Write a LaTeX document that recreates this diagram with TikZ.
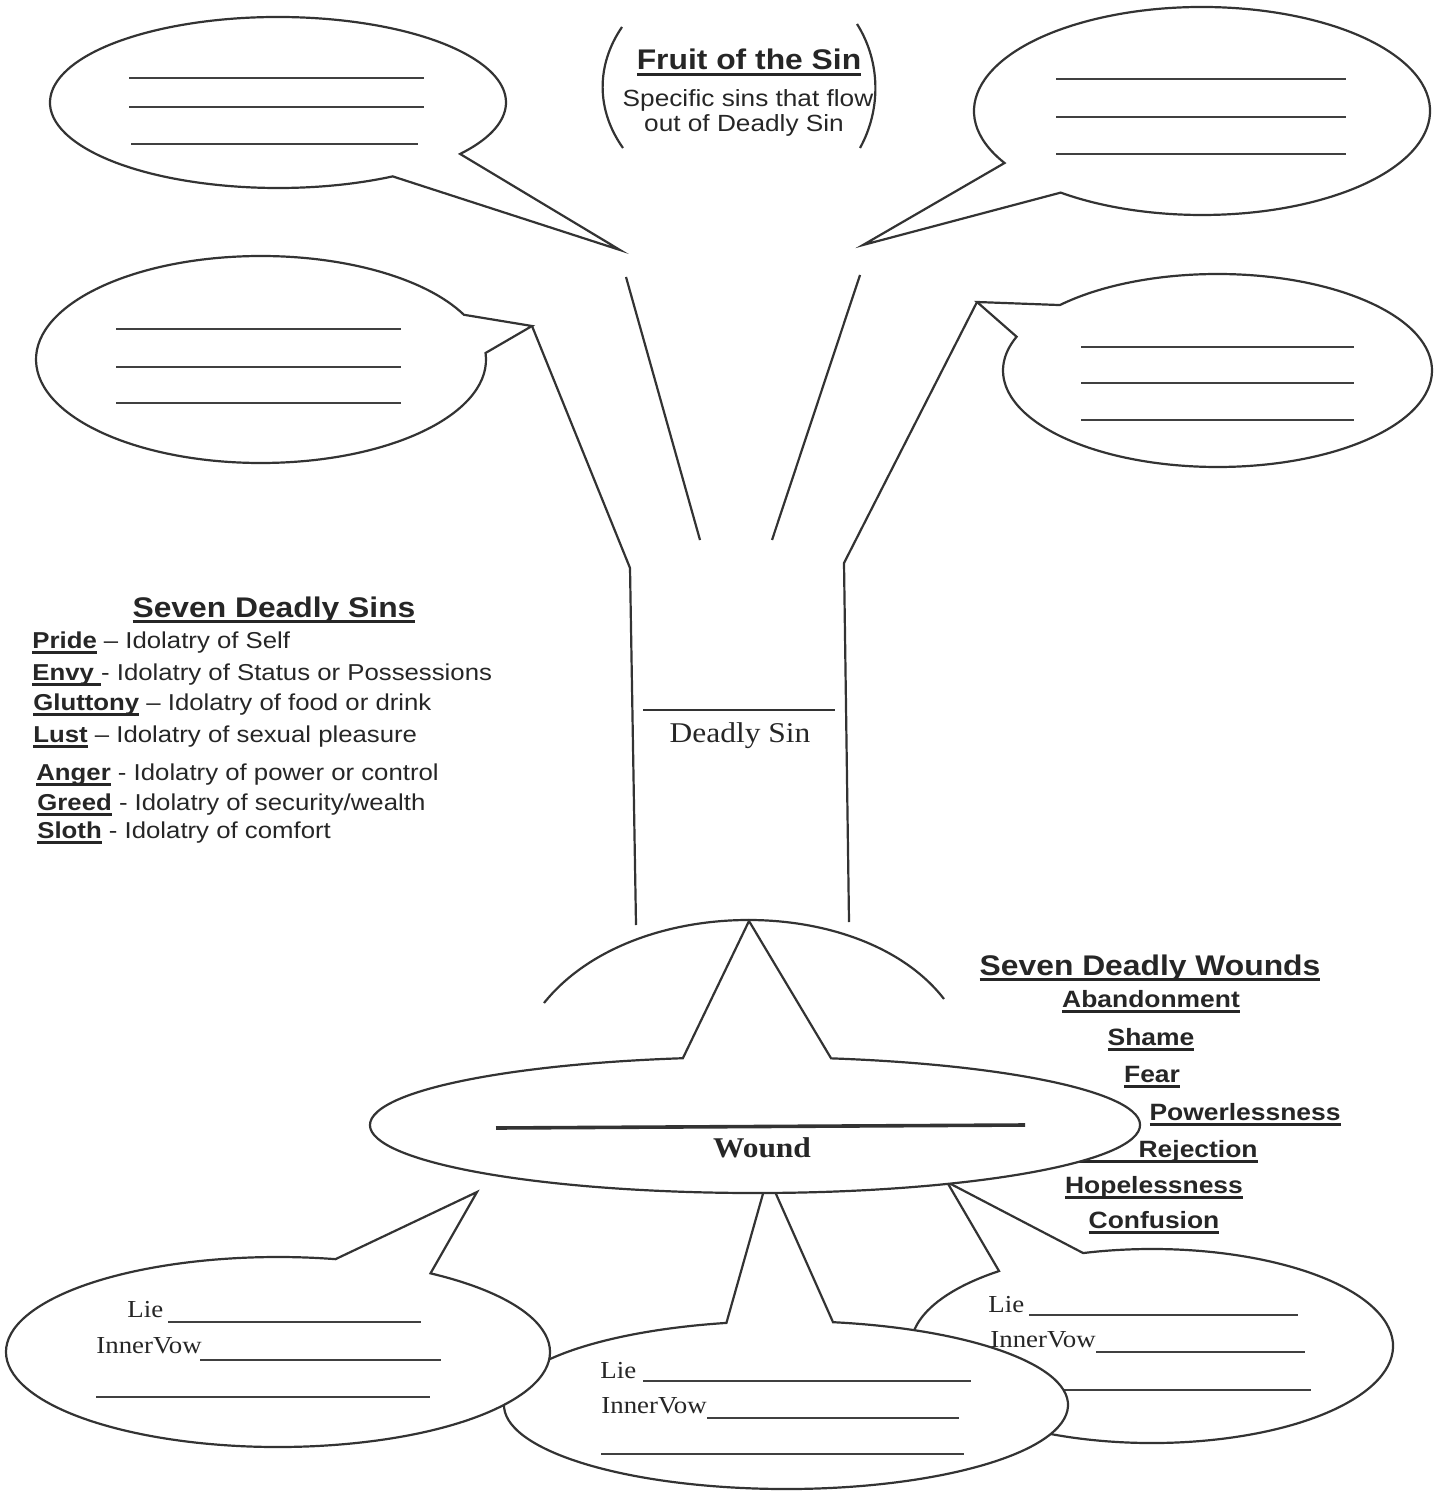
\documentclass[tikz,border=0pt]{standalone}
\usepackage{fontspec}
\newfontfamily\sansx[FakeStretch=1.12]{Liberation Sans}
\newfontfamily\serifx[FakeStretch=1.1]{Liberation Serif}
\usetikzlibrary{positioning,calc}
\newsavebox\ulbox
\newcommand{\ul}[1]{\sbox\ulbox{#1}\rlap{\rule[-3pt]{\wd\ulbox}{1.3pt}}\usebox\ulbox}
\tikzset{
  outl/.style={line width=1.1pt, draw=black!80, fill=white},
  trunk/.style={line width=1.1pt, draw=black!80},
  blank/.style={line width=0.7pt, draw=black!75},
  ttl/.style={font=\sansx\bfseries\fontsize{14.2}{16}\selectfont, anchor=base, inner sep=0pt, text=black!85},
  sub/.style={font=\sansx\fontsize{11.7}{13}\selectfont, anchor=base, inner sep=0pt, text=black!85},
  sin/.style={font=\sansx\fontsize{11.5}{13}\selectfont, anchor=base west, inner sep=0pt, text=black!85},
  wnd/.style={font=\sansx\bfseries\fontsize{11.8}{13}\selectfont, anchor=base, inner sep=0pt, text=black!85},
  srf/.style={font=\serifx\fontsize{14.3}{16}\selectfont, anchor=base, inner sep=0pt, text=black!85},
  lie/.style={font=\serifx\fontsize{12.2}{13}\selectfont, anchor=base west, inner sep=0pt, text=black!85}
}
\begin{document}
\begin{tikzpicture}[x=0.5pt,y=-0.5pt]
\useasboundingbox (0,0) rectangle (1440,1491);
\coordinate (ttip) at (620,250);
\coordinate (rtip) at (863,245);
\coordinate (ltip) at (532,326);
\coordinate (mtip) at (977,302);
\coordinate (wtip) at (749,921);

% fruit bubbles
\draw[outl] (278,102.5) ++(59.8:228 and 85.5) arc[start angle=59.8, end angle=397, x radius=228, y radius=85.5] -- (ttip) -- cycle;
\draw[outl] (1202,111) ++(150:228 and 104) arc[start angle=150, end angle=488.3, x radius=228, y radius=104] -- (rtip) -- cycle;
\draw[outl] (261,359.5) ++(-3.6:225 and 103.5) arc[start angle=-3.6, end angle=334.4, x radius=225, y radius=103.5] -- (ltip) -- cycle;
\draw[outl] (1217.5,370.5) ++(222.7:214.5 and 96.5) arc[start angle=222.7, end angle=560.5, x radius=214.5, y radius=96.5] -- (mtip) -- cycle;
\foreach \y in {78,107} \draw[blank] (129,\y) -- (424,\y);
\draw[blank] (131,144) -- (418,144);
\foreach \y in {79,117,154} \draw[blank] (1056,\y) -- (1346,\y);
\foreach \y in {329,367,403} \draw[blank] (116,\y) -- (401,\y);
\foreach \y in {347,383,420} \draw[blank] (1081,\y) -- (1354,\y);

\draw[trunk] (622,27) .. controls (596,65) and (596,110) .. (623,148);
\draw[trunk] (857,24) .. controls (881,62) and (881,110) .. (860,148);
\node[ttl] (fruit) at (749,70) {\ul{Fruit of the Sin}};
\node[sub] (flow) at (748,107) {Specific sins that flow};
\node[sub] (flowb) at (744,132) {out of Deadly Sin};

% tree
\draw[trunk] (ltip) -- (630,568) -- (636,925);
\draw[trunk] (mtip) -- (844,563) -- (849,922);
\draw[trunk] (626,277) -- (700,540);
\draw[trunk] (860,275) -- (772,540);
\draw[line width=1.3pt, black!80] (643,710) -- (835,710);
\node[srf] (dsin) at (740,742) {Deadly Sin};
\draw[trunk] (544,1003) .. controls (632,893) and (862,893) .. (944,999);

\node[ttl] (sins) at (274,617) {\ul{Seven Deadly Sins}};
\node[sin] (pride) at (32,648) {\ul{\bfseries Pride} – Idolatry of Self};
\node[sin] (envy) at (32,680) {\ul{\bfseries Envy\ }- Idolatry of Status or Possessions};
\node[sin] (glut) at (33,710) {\ul{\bfseries Gluttony} – Idolatry of food or drink};
\node[sin] (lust) at (33,742) {\ul{\bfseries Lust} – Idolatry of sexual pleasure};
\node[sin] (anger) at (36,780) {\ul{\bfseries Anger} - Idolatry of power or control};
\node[sin] (greed) at (37,810) {\ul{\bfseries Greed} - Idolatry of security/wealth};
\node[sin] (sloth) at (37,838) {\ul{\bfseries Sloth} - Idolatry of comfort};

% lie bubbles
\draw[outl] (1152,1346) ++(253.4:241 and 97) arc[start angle=253.4, end angle=590.6, x radius=241, y radius=97] -- (947,1182) -- cycle;
\draw[blank] (1029,1315) -- (1298,1315);
\draw[blank] (1096,1352) -- (1305,1352);
\draw[blank] (990,1390) -- (1311,1390);
\draw[outl] (786,1405) ++(279.6:282 and 84) arc[start angle=279.6, end angle=617.8, x radius=282, y radius=84] -- (768,1176) -- cycle;
\draw[blank] (643,1381) -- (971,1381);
\draw[blank] (707,1418) -- (959,1418);
\draw[blank] (601,1454) -- (964,1454);
\node[lie] (liem) at (600,1378) {Lie};
\node[lie] (vowm) at (601,1413) {InnerVow};
\draw[outl] (278,1352) ++(304.1:272 and 95) arc[start angle=304.1, end angle=642.2, x radius=272, y radius=95] -- (477,1192) -- cycle;
\draw[blank] (168,1322) -- (421,1322);
\draw[blank] (200,1360) -- (441,1360);
\draw[blank] (96,1397) -- (430,1397);
\node[lie] (liel) at (127,1317) {Lie};
\node[lie] (vowl) at (96,1353) {InnerVow};
\node[lie] (lier) at (988,1312) {Lie};
\node[lie] (vowr) at (990,1347) {InnerVow};

% wounds
\node[ttl] (wounds) at (1150,975) {\ul{Seven Deadly Wounds}};
\node[wnd] (aband) at (1151,1007) {\ul{Abandonment}};
\node[wnd] (shame) at (1151,1045) {\ul{Shame}};
\node[wnd] (fear) at (1152,1082) {\ul{Fear}};
\node[wnd] (power) at (1245,1120) {\ul{Powerlessness}};
\node[wnd,anchor=base east] (rej) at (1258,1157) {\ul{\hspace*{32pt}Rejection}};
\node[wnd] (hope) at (1154,1193) {\ul{Hopelessness}};
\node[wnd] (conf) at (1154,1228) {\ul{Confusion}};

\draw[outl] (755,1125) ++(281.4:385 and 68) arc[start angle=281.4, end angle=619.2, x radius=385, y radius=68] -- (wtip) -- cycle;
\draw[line width=1.8pt, black!80] (496,1128) -- (1025,1125);
\node[srf,font=\serifx\bfseries\fontsize{14.3}{16}\selectfont] (wound) at (762,1157) {Wound};
\end{tikzpicture}
\end{document}
